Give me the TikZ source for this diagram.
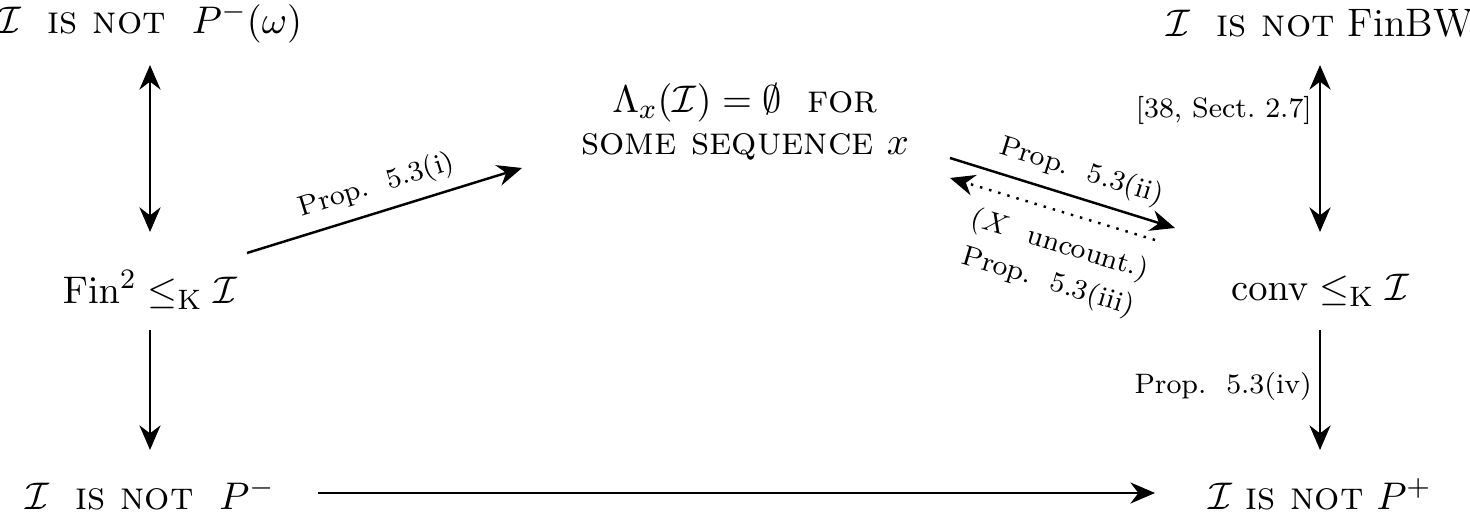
\documentclass[tikz,border=0pt]{standalone}
\usetikzlibrary{arrows.meta}
\begin{document}
\begin{tikzpicture}[x=0.01cm,y=-0.01cm,
  main/.style={font=\fontsize{11.3}{13}\selectfont,inner sep=0pt},
  lab/.style={font=\fontsize{8}{9.5}\selectfont,inner sep=2pt},
  arr/.style={-{Stealth[length=7pt,width=6pt]},line width=0.7pt},
  darr/.style={{Stealth[length=7pt,width=6pt]}-{Stealth[length=7pt,width=6pt]},line width=0.7pt}]
\useasboundingbox (0,0) rectangle (1470,513);
\node[main] (tl) at (150,23) {$\mathcal{I}$\ \ \textsc{is not}\ \ $P^{-}(\omega)$};
\node[main] (tr) at (1320,23) {$\mathcal{I}$\ \ \textsc{is not} FinBW};
\node[main,align=center] (mid) at (745,122) {$\Lambda_x(\mathcal{I})=\emptyset$\ \ \textsc{for}\\[-1pt] \textsc{some sequence} $x$};
\node[main] (fin) at (150,290) {$\mathrm{Fin}^2\leq_{\mathrm{K}}\mathcal{I}$};
\node[main] (conv) at (1320,290) {$\mathrm{conv}\leq_{\mathrm{K}}\mathcal{I}$};
\node[main] (bl) at (150,494) {$\mathcal{I}$\ \ \textsc{is not}\ \ $P^{-}$};
\node[main] (br) at (1320,494) {$\mathcal{I}$ \textsc{is not} $P^{+}$};
\coordinate (a1) at (150,65); \coordinate (a2) at (150,232);
\coordinate (b1) at (150,330); \coordinate (b2) at (150,450);
\coordinate (c1) at (1320,65); \coordinate (c2) at (1320,232);
\coordinate (d1) at (1320,330); \coordinate (d2) at (1320,450);
\coordinate (e1) at (318,493); \coordinate (e2) at (1155,493);
\coordinate (f1) at (247,253); \coordinate (f2) at (522,168);
\coordinate (g1) at (950,158); \coordinate (g2) at (1175,228);
\coordinate (h1) at (1155,240); \coordinate (h2) at (950,178);
\draw[darr] (a1) -- (a2);
\draw[arr] (b1) -- (b2);
\draw[darr] (c1) -- node[lab,left,pos=0.27] {[38, Sect.\ 2.7]} (c2);
\draw[arr] (d1) -- node[lab,left,pos=0.47] {Prop.\ \ 5.3(iv)} (d2);
\draw[arr] (e1) -- (e2);
\draw[arr] (f1) -- node[lab,above=1pt,sloped] {Prop.\ \ 5.3(i)} (f2);
\draw[arr] (g1) -- node[lab,above=1pt,sloped,pos=0.55] {Prop.\ \ 5.3(ii)} (g2);
\draw[arr,dotted] (h1) -- node[lab,below=3pt,sloped,align=center,pos=0.42] {($X$\ \ uncount.)\\[1.5pt] Prop.\ \ 5.3(iii)} (h2);
\end{tikzpicture}
\end{document}
